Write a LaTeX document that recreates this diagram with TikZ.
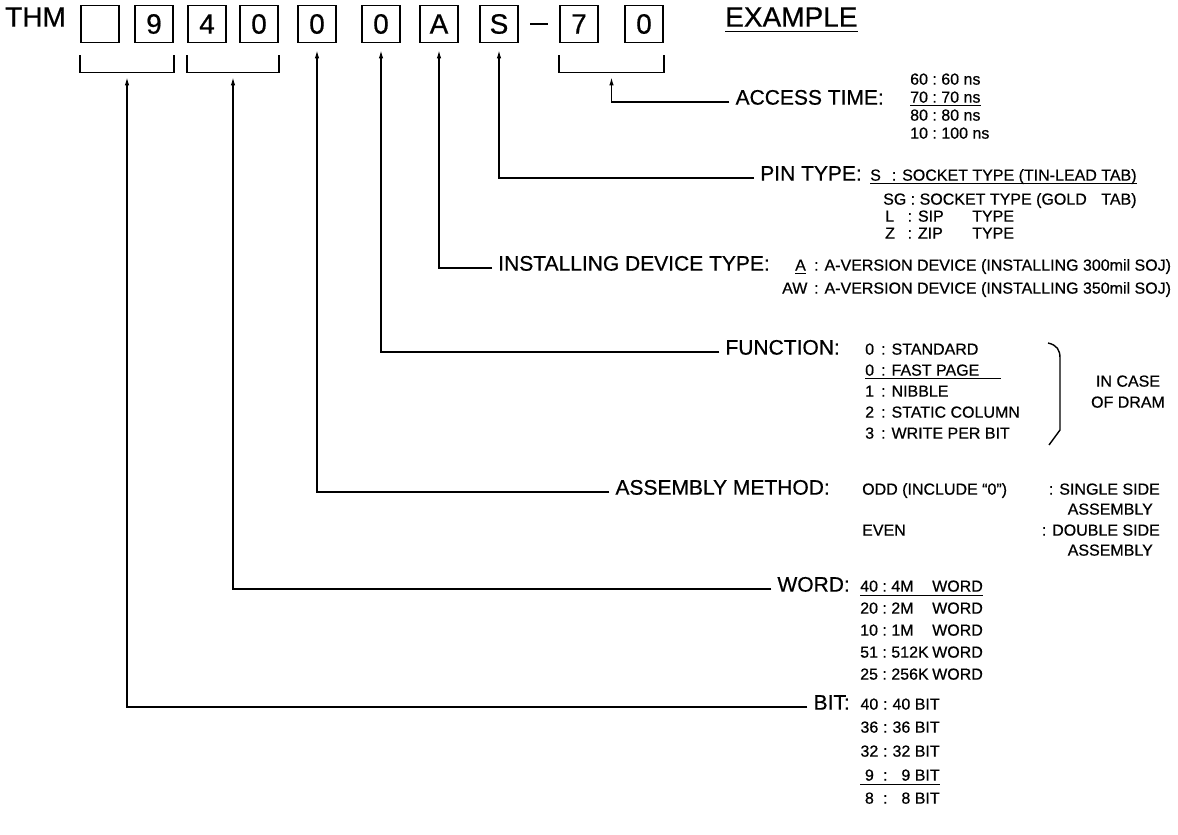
\documentclass[tikz,border=0pt]{standalone}
\usepackage{fontspec}
\setmainfont{Liberation Sans}[FakeBold=0.6]
\usetikzlibrary{arrows.meta, positioning, calc}

\begin{document}
\begin{tikzpicture}[x=1pt, y=-1pt,
    big/.style={anchor=mid west, inner sep=0pt, font=\fontsize{28}{32}\selectfont},
    digit/.style={draw, line width=1.8pt, minimum width=38pt, minimum height=37pt, inner sep=0pt, font=\fontsize{28}{32}\selectfont},
    lbl/.style={anchor=mid east, inner sep=0pt, font=\fontsize{21}{25}\selectfont},
    val/.style={anchor=mid west, inner sep=0pt, font=\fontsize{16}{19}\selectfont},
    conn/.style={line width=1.2pt, -{Latex[length=8pt,width=4.5pt]}},
    lead/.style={line width=1.4pt},
    uline/.style={line width=1.4pt}]

    \useasboundingbox (0,0) rectangle (1178,835);

    % part number
    \node[big] (thm) at (5,24) {THM};
    \foreach \x/\d/\n in {100//b1, 154/9/b2, 207/4/b3, 259/0/b4, 317/0/b5, 381/0/b6, 439/A/bA, 499/S/bS, 579/7/b7, 644/0/b8}
        \node[digit] (\n) at (\x,24) {\d};
    \draw[line width=1.8pt] (530,24) -- (548,24);
    \node[big] (example) at (725,24) {EXAMPLE};
    \draw[uline] ($(example.base west)+(0,5)$) -- ($(example.base east)+(0,5)$);

    % brackets under the digit pairs
    \draw[lead] (b1.south west) ++(0,12) -- ++(0,17) -| ($(b2.south east)+(0,12)$);
    \draw[lead] (b3.south west) ++(0,12) -- ++(0,17) -| ($(b4.south east)+(0,12)$);
    \draw[lead] (b7.south west) ++(0,12) -- ++(0,17) -| ($(b8.south east)+(0,12)$);
    \coordinate (br12) at ($(b1.south west)!0.5!(b2.south east)+(0,34)$);
    \coordinate (br34) at ($(b3.south west)!0.5!(b4.south east)+(0,34)$);
    \coordinate (br78) at ($(b7.south west)!0.5!(b8.south east)+(0,34)$);

    % field names
    \node[lbl] (access) at (884,102) {ACCESS TIME:};
    \node[lbl] (pin) at (862,178) {PIN TYPE:};
    \node[lbl] (install) at (770,268) {INSTALLING DEVICE TYPE:};
    \node[lbl] (function) at (840,352) {FUNCTION:};
    \node[lbl] (assembly) at (830,492) {ASSEMBLY METHOD:};
    \node[lbl] (word) at (850,589) {WORD:};
    \node[lbl] (bit) at (850,707) {BIT:};

    \draw[conn] ([xshift=-6pt]access.mid west) -| (br78);
    \draw[conn] ([xshift=-6pt]pin.mid west) -| ([yshift=-7pt]bS.south);
    \draw[conn] ([xshift=-6pt]install.mid west) -| ([yshift=-7pt]bA.south);
    \draw[conn] ([xshift=-6pt]function.mid west) -| ([yshift=-7pt]b6.south);
    \draw[conn] ([xshift=-6pt]assembly.mid west) -| ([yshift=-7pt]b5.south);
    \draw[conn] ([xshift=-6pt]word.mid west) -| (br34);
    \draw[conn] ([xshift=-6pt]bit.mid west) -| (br12);

    % access time
    \foreach \y/\k/\t [count=\i] in {82/60/60, 100/70/70, 118/80/80, 136/10/100}
        \node[val] (at\i) at (910,\y) {\k\ :\ \t\ ns};
    \draw[uline] ($(at2.base west)+(0,3)$) -- ($(at2.base east)+(0,3)$);

    % pin type
    \node[val] (pS) at (870,178) {\makebox[1.35em][l]{S}: SOCKET TYPE (TIN-LEAD TAB)};
    \draw[uline] ($(pS.base west)+(0,3)$) -- ($(pS.base east)+(0,3)$);
    \node[val] (pSG) at (883,202) {SG : SOCKET TYPE (GOLD};
    \node[val, anchor=mid east] (pSGtab) at (pS.east |- pSG.mid) {TAB)};
    \node[val] (pL) at (885,219) {\makebox[1.4em][l]{L}: SIP};
    \node[val] (pLtype) at (972,219) {TYPE};
    \node[val] (pZ) at (885,236) {\makebox[1.4em][l]{Z}: ZIP};
    \node[val] (pZtype) at (972,236) {TYPE};

    % installing device type
    \node[val] (iA) at (795,268) {A};
    \draw[uline] ($(iA.base west)+(0,3)$) -- ($(iA.base east)+(0,3)$);
    \node[val] (iArest) at (814,268) {: A-VERSION DEVICE (INSTALLING 300mil SOJ)};
    \node[val] (iAW) at (782,291) {AW};
    \node[val] (iAWrest) at (814,291) {: A-VERSION DEVICE (INSTALLING 350mil SOJ)};

    % function
    \foreach \y/\k/\t [count=\i] in {352/0/STANDARD, 373/0/FAST PAGE, 394/1/NIBBLE, 415/2/STATIC COLUMN, 436/3/WRITE PER BIT}
        \node[val] (fn\i) at (865,\y) {\makebox[1em][l]{\k}: \t};
    \draw[uline] ($(fn2.base west)+(0,3)$) -- ($(fn2.base west)+(136,3)$);
    \draw[lead] (1048,343) .. controls (1057,345) and (1060,350) .. (1060,358) -- (1060,430) -- (1049,445);
    \node[val, anchor=mid] (case1) at (1128,384) {IN CASE};
    \node[val, anchor=mid] (case2) at (1128,405) {OF DRAM};

    % assembly method
    \node[val] (aOdd) at (862,492) {ODD (INCLUDE ``0'')};
    \node[val, anchor=mid east] (aSingle) at (1160,492) {: SINGLE SIDE};
    \node[val, anchor=mid east] (aAsm1) at (1153,512) {ASSEMBLY};
    \node[val] (aEven) at (862,533) {EVEN};
    \node[val, anchor=mid east] (aDouble) at (1160,533) {: DOUBLE SIDE};
    \node[val, anchor=mid east] (aAsm2) at (1153,553) {ASSEMBLY};

    % word
    \foreach \y/\k/\m [count=\i] in {589/40/4M, 611/20/2M, 633/10/1M, 655/51/512K, 677/25/256K}
        \node[val] (w\i) at (860,\y) {\makebox[4.5em][l]{\k\ :\ \m}WORD};
    \draw[uline] ($(w1.base west)+(0,4)$) -- ($(w1.base east)+(0,4)$);

    % bit
    \foreach \y/\k [count=\i] in {707/40, 730/36, 754/32, 778/9, 801/8}
        \node[val] (bt\i) at (860,\y) {\makebox[1.15em][c]{\k}\ :\ \makebox[1.15em][r]{\k} BIT};
    \draw[uline] ($(bt4.base west)+(0,4)$) -- ($(bt4.base east)+(0,4)$);

\end{tikzpicture}
\end{document}
